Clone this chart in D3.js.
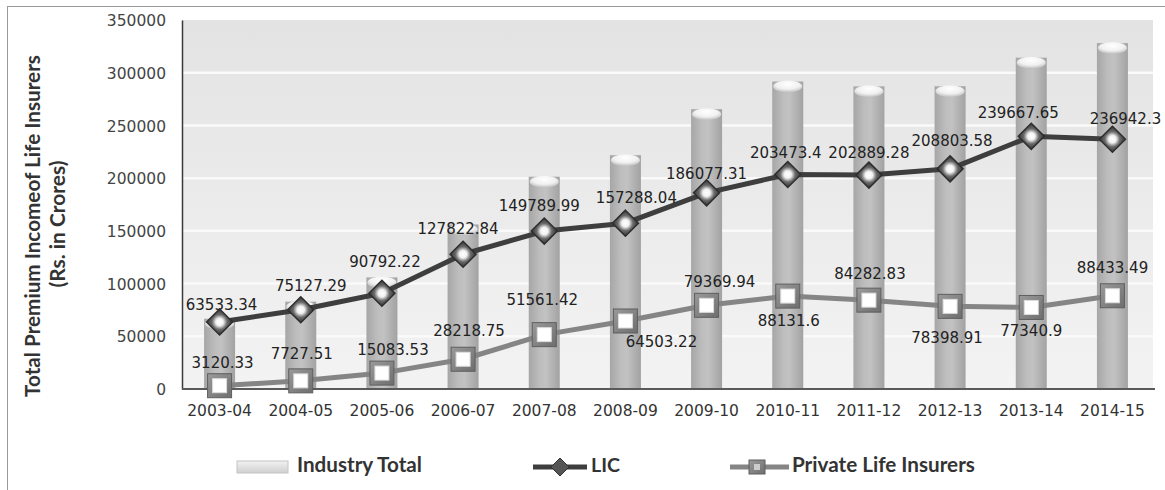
<!DOCTYPE html>
<html><head><meta charset="utf-8">
<script src="https://cdn.jsdelivr.net/npm/d3@7/dist/d3.min.js"></script>
<style>html,body{margin:0;padding:0;background:#fff;}svg{display:block;}</style>
</head><body>
<svg id="c" width="1165" height="490"></svg>
<script>
// ---- data ----
const categories = ["2003-04","2004-05","2005-06","2006-07","2007-08","2008-09","2009-10","2010-11","2011-12","2012-13","2013-14","2014-15"];
const industryTotal = [66653.75, 82854.80, 105875.76, 156075.84, 201351.41, 221791.26, 265447.25, 291638.64, 287072.11, 287202.49, 314283.40, 328101.54];
const licValues = [63533.34, 75127.29, 90792.22, 127822.84, 149789.99, 157288.04, 186077.31, 203473.4, 202889.28, 208803.58, 239667.65, 236942.3];
const privateValues = [3120.33, 7727.51, 15083.53, 28218.75, 51561.42, 64503.22, 79369.94, 88131.6, 84282.83, 78398.91, 77340.9, 88433.49];
const yTicks = [0, 50000, 100000, 150000, 200000, 250000, 300000, 350000];
const seriesNames = ["Industry Total", "LIC", "Private Life Insurers"];
const yTitle = ["Total Premium Incomeof Life Insurers", "(Rs. in Crores)"];

// ---- layout tweaks for data labels (dx, dy from marker) ----
const licLabelOffset = [[2,-12],[10,-19],[3,-26],[-5,-20],[-5,-20],[11,-20],[0,-14],[-2,-16],[0,-17],[2,-23],[-13,-18],[13,-15]];
const privLabelOffset = [[3,-18],[1,-22],[11,-18],[6,-23],[-2,-30],[36,26],[13,-18],[1,30],[1,-21],[-3,37],[0,28.5],[0,-23]];

const svg = d3.select("#c");
const defs = svg.append("defs");

// gradients
const bg = defs.append("linearGradient").attr("id","bg").attr("x1",0).attr("y1",0).attr("x2",0).attr("y2",1);
bg.append("stop").attr("offset","0%").attr("stop-color","#e3e3e3");
bg.append("stop").attr("offset","100%").attr("stop-color","#f3f3f3");

const barG = defs.append("linearGradient").attr("id","barG").attr("x1",0).attr("y1",0).attr("x2",1).attr("y2",0);
[["0%","#a6a6a6"],["35%","#bdbdbd"],["55%","#c2c2c2"],["100%","#a2a2a2"]].forEach(s=>barG.append("stop").attr("offset",s[0]).attr("stop-color",s[1]));

const capG = defs.append("radialGradient").attr("id","capG").attr("cx","50%").attr("cy","30%").attr("r","70%");
capG.append("stop").attr("offset","0%").attr("stop-color","#ffffff");
capG.append("stop").attr("offset","60%").attr("stop-color","#f0f0f0");
capG.append("stop").attr("offset","100%").attr("stop-color","#bdbdbd");

const diaG = defs.append("radialGradient").attr("id","diaG").attr("cx","50%").attr("cy","50%").attr("r","50%");
diaG.append("stop").attr("offset","0%").attr("stop-color","#ffffff");
diaG.append("stop").attr("offset","28%").attr("stop-color","#f2f2f2");
diaG.append("stop").attr("offset","58%").attr("stop-color","#6a6a6a");
diaG.append("stop").attr("offset","100%").attr("stop-color","#333333");

const sqG = defs.append("linearGradient").attr("id","sqG").attr("x1",0).attr("y1",0).attr("x2",1).attr("y2",1);
sqG.append("stop").attr("offset","0%").attr("stop-color","#9a9a9a");
sqG.append("stop").attr("offset","100%").attr("stop-color","#6e6e6e");

const legG = defs.append("linearGradient").attr("id","legG").attr("x1",0).attr("y1",0).attr("x2",0).attr("y2",1);
legG.append("stop").attr("offset","0%").attr("stop-color","#f2f2f2");
legG.append("stop").attr("offset","100%").attr("stop-color","#cfcfcf");

// outer border (clipped right/bottom like the reference)
svg.append("rect").attr("x",7.5).attr("y",6.5).attr("width",1200).attr("height",520)
  .attr("fill","none").attr("stroke","#9a9a9a").attr("stroke-width",1);

// scales
const x = d3.scaleBand().domain(categories).range([179,1153]).padding(0);
const cx = d => x(d) + x.bandwidth()/2;
const y = d3.scaleLinear().domain([0,350000]).range([389,20]);
const plotL = 182, plotR = 1153;

// plot background
svg.append("rect").attr("x",plotL).attr("y",y(350000)).attr("width",plotR-plotL).attr("height",y(0)-y(350000)).attr("fill","url(#bg)");

// gridlines
svg.append("g").selectAll("line").data(yTicks.filter(t=>t>0 && t<350000)).join("line")
  .attr("x1",plotL).attr("x2",plotR).attr("y1",d=>y(d)).attr("y2",d=>y(d))
  .attr("stroke","#fafafa").attr("stroke-width",2.5);

// bars
const barW = 31;
const bars = svg.append("g");
bars.selectAll("rect").data(industryTotal).join("rect")
  .attr("x",(d,i)=>cx(categories[i])-barW/2).attr("width",barW)
  .attr("y",d=>y(d)).attr("height",d=>y(0)-y(d)).attr("fill","url(#barG)");
bars.selectAll("ellipse").data(industryTotal).join("ellipse")
  .attr("cx",(d,i)=>cx(categories[i])).attr("cy",d=>y(d)+5).attr("rx",barW/2-1).attr("ry",6)
  .attr("fill","url(#capG)");

// axes
const yAxis = d3.axisLeft(y).tickValues(yTicks).tickSize(0).tickPadding(16).tickFormat(d3.format("d"));
const gy = svg.append("g").attr("transform",`translate(${plotL},0)`).call(yAxis);
gy.select(".domain").attr("stroke","#3a3a3a").attr("stroke-width",1.5);
gy.selectAll("text").attr("font-family","DejaVu Sans").attr("font-size",15.5).attr("fill","#444").attr("dy","0.36em");

const xAxis = d3.axisBottom(x).tickSize(0).tickPadding(22);
const gx = svg.append("g").attr("transform",`translate(0,${y(0)})`).call(xAxis);
gx.select(".domain").attr("d",`M${plotL},0H${plotR+2}`).attr("stroke","#5a5a5a").attr("stroke-width",2);
gx.selectAll("text").attr("font-family","DejaVu Sans").attr("font-size",15.5).attr("fill","#333").attr("dy","0.3em");

// lines
const line = d3.line().x((d,i)=>cx(categories[i])).y(d=>y(d));
svg.append("path").datum(privateValues).attr("d",line).attr("fill","none").attr("stroke","#858585").attr("stroke-width",5).attr("stroke-linejoin","round");
svg.append("path").datum(licValues).attr("d",line).attr("fill","none").attr("stroke","#3e3e3e").attr("stroke-width",5).attr("stroke-linejoin","round");

// markers: private squares
const sq = svg.append("g");
privateValues.forEach((v,i)=>{
  const px = cx(categories[i]), py = y(v);
  sq.append("rect").attr("x",px-12).attr("y",py-12).attr("width",24).attr("height",24).attr("fill","url(#sqG)").attr("stroke","#5e5e5e").attr("stroke-width",1);
  sq.append("rect").attr("x",px-7).attr("y",py-7).attr("width",14).attr("height",14).attr("fill","#fff").attr("stroke","#dcdcdc").attr("stroke-width",1);
});
// markers: LIC diamonds
const dm = svg.append("g");
licValues.forEach((v,i)=>{
  const px = cx(categories[i]), py = y(v), r = 13;
  dm.append("path").attr("d",`M${px},${py-r}L${px+r},${py}L${px},${py+r}L${px-r},${py}Z`).attr("fill","url(#diaG)").attr("stroke","#2e2e2e").attr("stroke-width",1.5);
});

// data labels
const fmt = v => String(v);
const lab = svg.append("g").attr("font-family","DejaVu Sans").attr("font-size",15).attr("fill","#222").attr("text-anchor","middle");
licValues.forEach((v,i)=>{
  lab.append("text").attr("x",cx(categories[i])+licLabelOffset[i][0]).attr("y",y(v)+licLabelOffset[i][1]).text(fmt(v));
});
privateValues.forEach((v,i)=>{
  lab.append("text").attr("x",cx(categories[i])+privLabelOffset[i][0]).attr("y",y(v)+privLabelOffset[i][1]).text(fmt(v));
});

// fit helper
function fit(t, w){
  const cur = t.node().getComputedTextLength();
  const fs = parseFloat(t.attr("font-size"));
  t.attr("font-size", fs*w/cur);
}

// y title
const t1 = svg.append("text").attr("transform","translate(40,226) rotate(-90)").attr("text-anchor","middle")
  .attr("font-family","Lato").attr("font-weight","bold").attr("font-size",16).attr("fill","#333").text(yTitle[0]);
fit(t1,342);
const t2 = svg.append("text").attr("transform","translate(65,224) rotate(-90)").attr("text-anchor","middle")
  .attr("font-family","Lato").attr("font-weight","bold").attr("font-size",16).attr("fill","#333").text(yTitle[1]);
fit(t2,127);

// legend
const lg = svg.append("g");
lg.append("rect").attr("x",237).attr("y",461).attr("width",51).attr("height",12).attr("fill","url(#legG)").attr("stroke","#c4c4c4");
const l1 = lg.append("text").attr("x",297).attr("y",472).attr("font-family","Lato").attr("font-weight","bold").attr("font-size",16).attr("fill","#333").text(seriesNames[0]);
fit(l1,125);
lg.append("line").attr("x1",533).attr("x2",587).attr("y1",467).attr("y2",467).attr("stroke","#3e3e3e").attr("stroke-width",5);
lg.append("path").attr("d","M560,458L569,467L560,476L551,467Z").attr("fill","#555").attr("stroke","#333");
const l2 = lg.append("text").attr("x",591).attr("y",472).attr("font-family","Lato").attr("font-weight","bold").attr("font-size",16).attr("fill","#333").text(seriesNames[1]);
fit(l2,29);
lg.append("line").attr("x1",730).attr("x2",789).attr("y1",467).attr("y2",467).attr("stroke","#858585").attr("stroke-width",5);
lg.append("rect").attr("x",749).attr("y",460).attr("width",16).attr("height",14).attr("fill","url(#sqG)").attr("stroke","#5e5e5e");
lg.append("rect").attr("x",754).attr("y",464).attr("width",6).attr("height",6).attr("fill","#ccc");
const l3 = lg.append("text").attr("x",792).attr("y",472).attr("font-family","Lato").attr("font-weight","bold").attr("font-size",16).attr("fill","#333").text(seriesNames[2]);
fit(l3,183);
</script>
</body></html>
